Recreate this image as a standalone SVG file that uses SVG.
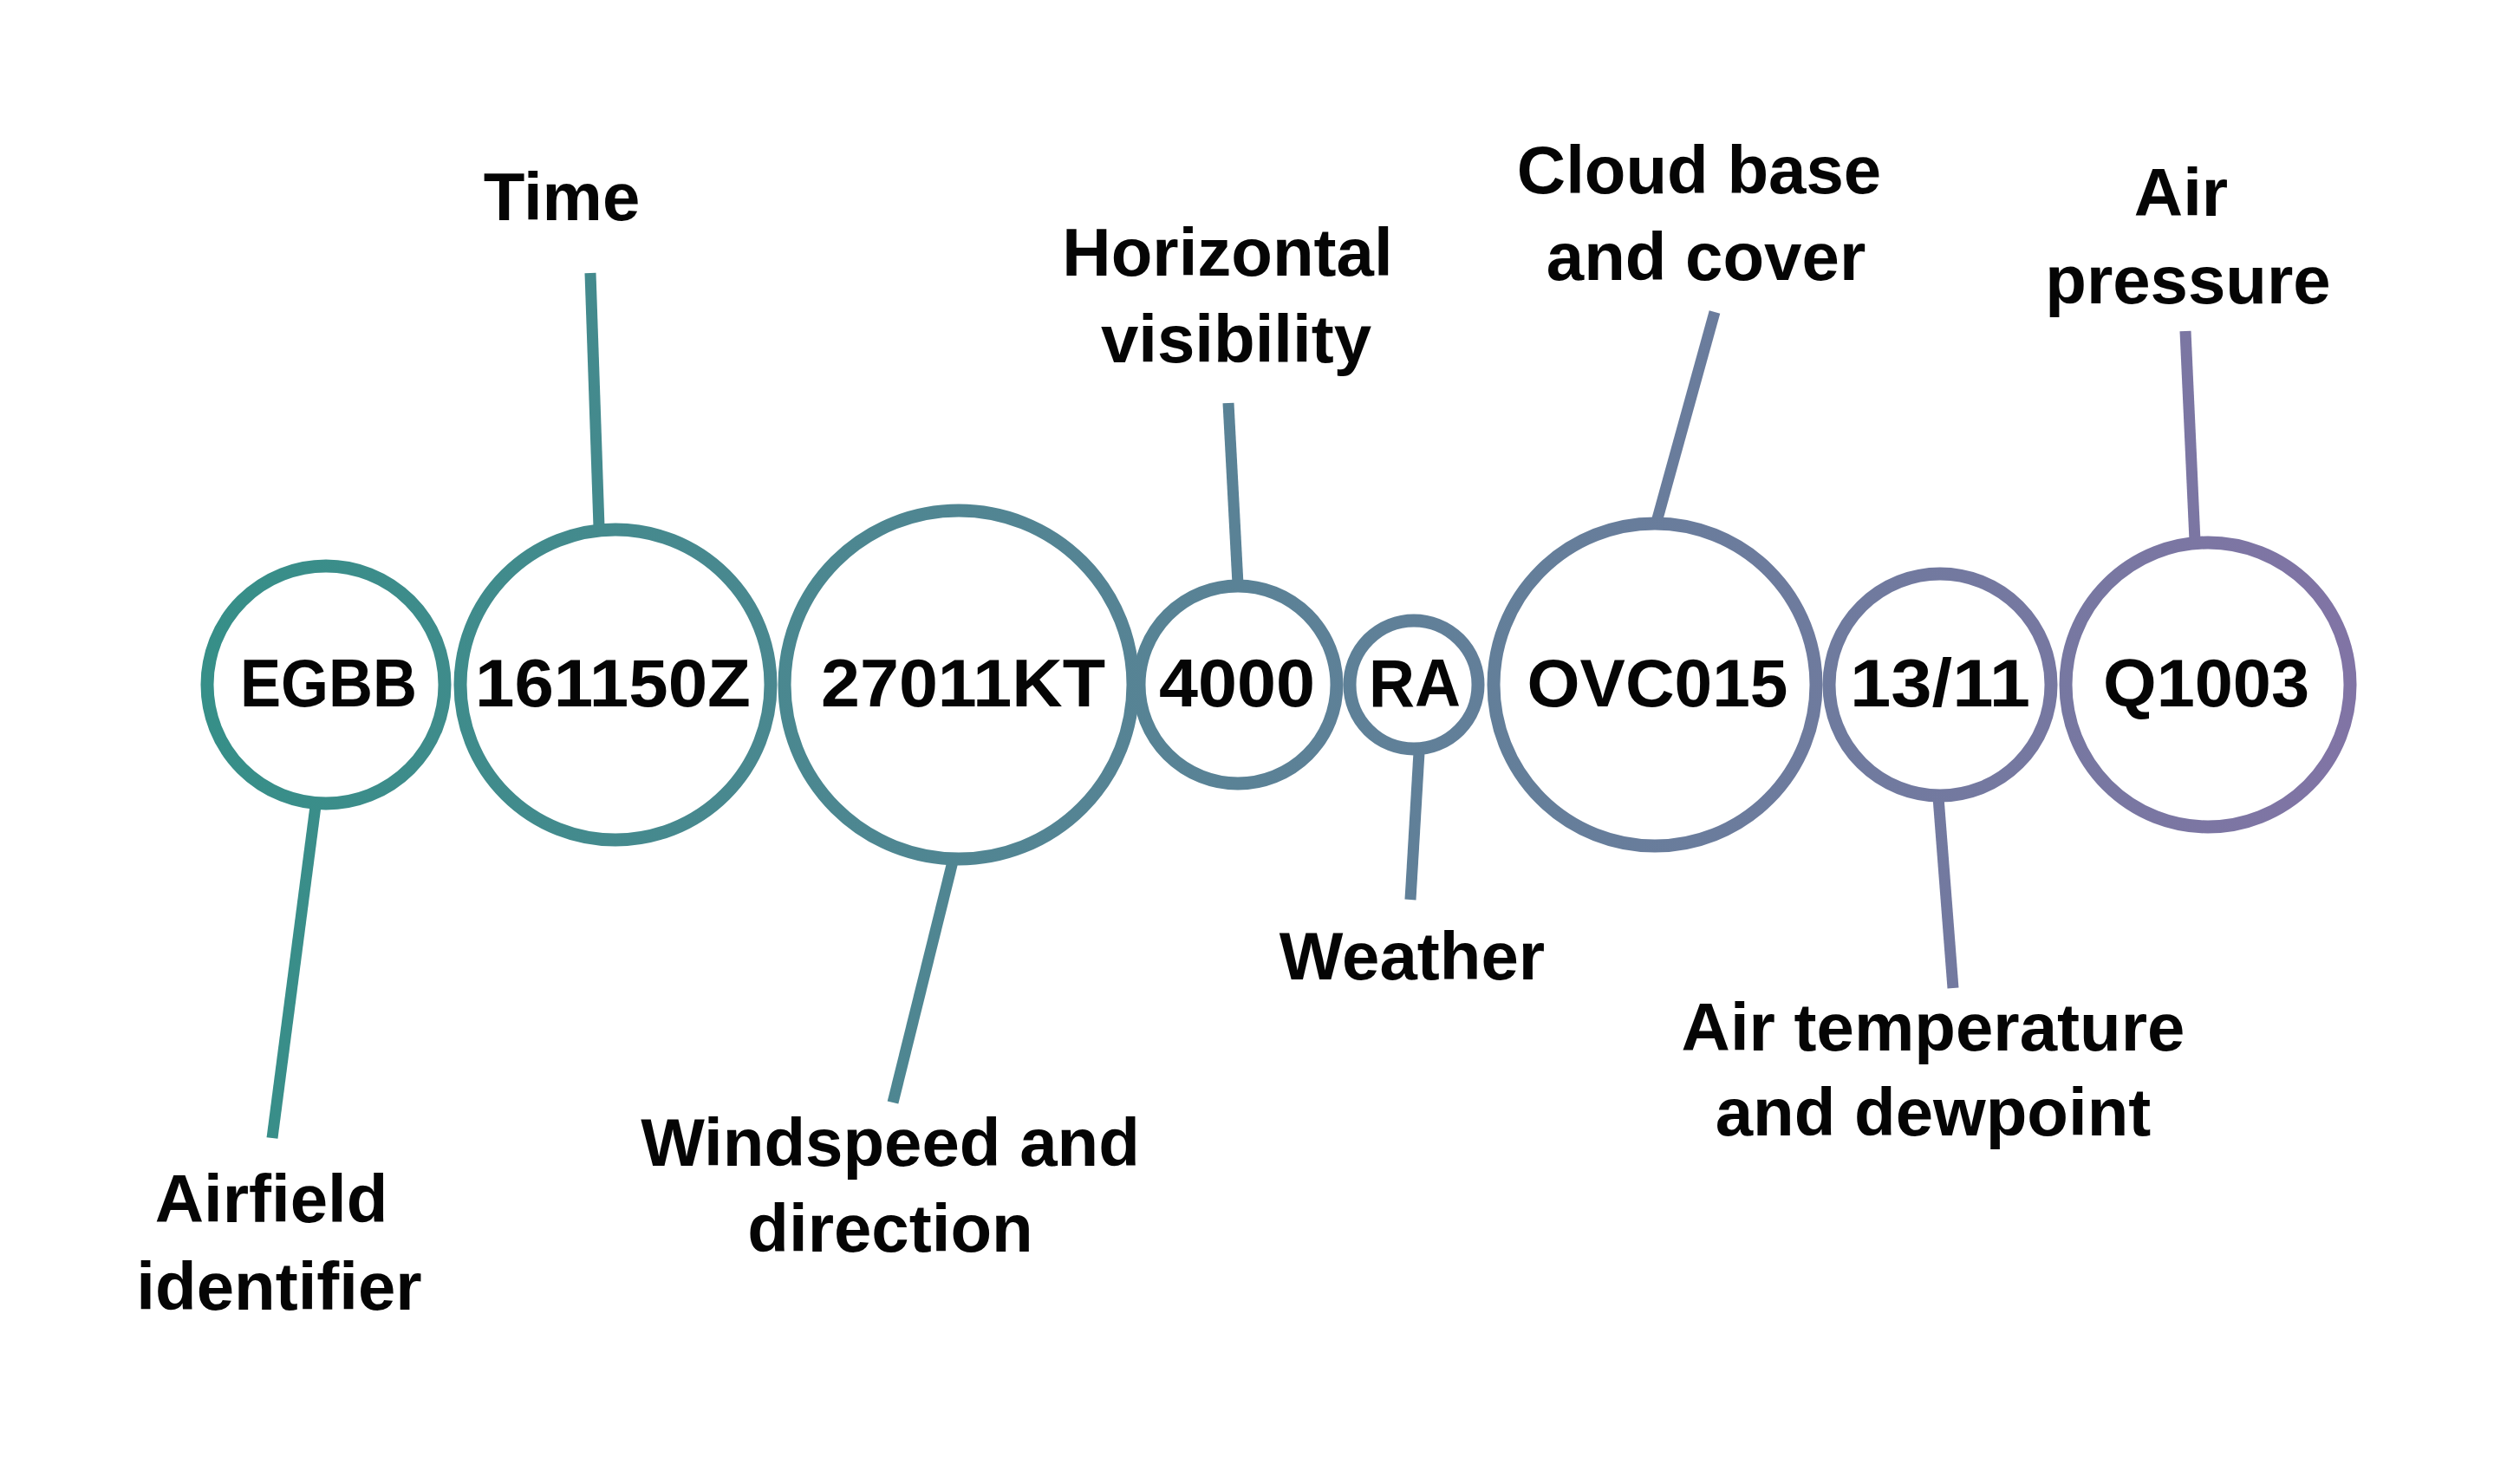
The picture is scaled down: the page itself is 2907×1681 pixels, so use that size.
<svg xmlns="http://www.w3.org/2000/svg" width="2907" height="1681" viewBox="0 0 2907 1681">
  <defs>
    <linearGradient id="g" gradientUnits="userSpaceOnUse" x1="230" y1="0" x2="2720" y2="0">
      <stop offset="0" stop-color="#368f88"/>
      <stop offset="1" stop-color="#8174a5"/>
    </linearGradient>
  </defs>
  <style>
    .ring { fill: #ffffff; stroke: url(#g); stroke-width: 15; }
    .conn { stroke: url(#g); stroke-width: 13; stroke-linecap: butt; fill: none; }
    .code { font-family: "Liberation Sans", Arial, sans-serif; font-weight: 700; font-size: 78px; fill: #050505; text-anchor: middle; }
    .lbl { font-family: "Liberation Sans", Arial, sans-serif; font-weight: 700; font-size: 78px; fill: #050505; text-anchor: middle; }
  </style>
  <rect width="2907" height="1681" fill="#ffffff"/>

  <g id="connectors">
    <line class="conn" x1="364" y1="930" x2="314" y2="1313"/>
    <line class="conn" x1="681" y1="315" x2="691" y2="608"/>
    <line class="conn" x1="1100" y1="990" x2="1030" y2="1272"/>
    <line class="conn" x1="1417" y1="465" x2="1428" y2="674"/>
    <line class="conn" x1="1637" y1="868" x2="1627" y2="1038"/>
    <line class="conn" x1="1978" y1="360" x2="1911" y2="602"/>
    <line class="conn" x1="2236" y1="920" x2="2253" y2="1140"/>
    <line class="conn" x1="2521" y1="382" x2="2532" y2="624"/>
  </g>

  <g id="node-egbb">
    <circle class="ring" cx="376" cy="790" r="137"/>
    <text class="code" x="379" y="815" textLength="204" lengthAdjust="spacingAndGlyphs">EGBB</text>
    <text class="lbl" x="313" y="1410">Airfield</text>
    <text class="lbl" x="322" y="1511">identifier</text>
  </g>
  <g id="node-time">
    <circle class="ring" cx="710" cy="790" r="179"/>
    <text class="code" x="707" y="815" textLength="318" lengthAdjust="spacingAndGlyphs">161150Z</text>
    <text class="lbl" x="648" y="254">Time</text>
  </g>
  <g id="node-wind">
    <circle class="ring" cx="1106" cy="790" r="201"/>
    <text class="code" x="1111" y="815" textLength="328" lengthAdjust="spacingAndGlyphs">27011KT</text>
    <text class="lbl" x="1027" y="1345">Windspeed and</text>
    <text class="lbl" x="1027" y="1444">direction</text>
  </g>
  <g id="node-vis">
    <circle class="ring" cx="1428" cy="790" r="114"/>
    <text class="code" x="1427" y="815" textLength="180" lengthAdjust="spacingAndGlyphs">4000</text>
    <text class="lbl" x="1416" y="318">Horizontal</text>
    <text class="lbl" x="1426" y="418">visibility</text>
  </g>
  <g id="node-wx">
    <circle class="ring" cx="1631" cy="790" r="74"/>
    <text class="code" x="1632" y="815" textLength="106" lengthAdjust="spacingAndGlyphs">RA</text>
    <text class="lbl" x="1629" y="1130">Weather</text>
  </g>
  <g id="node-cloud">
    <circle class="ring" cx="1909" cy="790" r="186"/>
    <text class="code" x="1912" y="815" textLength="301" lengthAdjust="spacingAndGlyphs">OVC015</text>
    <text class="lbl" x="1960" y="223">Cloud base</text>
    <text class="lbl" x="1968" y="323">and cover</text>
  </g>
  <g id="node-temp">
    <circle class="ring" cx="2238" cy="790" r="128"/>
    <text class="code" x="2238" y="815" textLength="208" lengthAdjust="spacingAndGlyphs">13/11</text>
    <text class="lbl" x="2230" y="1212">Air temperature</text>
    <text class="lbl" x="2230" y="1310">and dewpoint</text>
  </g>
  <g id="node-qnh">
    <circle class="ring" cx="2547" cy="790" r="164"/>
    <text class="code" x="2545" y="815" textLength="238" lengthAdjust="spacingAndGlyphs">Q1003</text>
    <text class="lbl" x="2516" y="249">Air</text>
    <text class="lbl" x="2524" y="350">pressure</text>
  </g>
</svg>
